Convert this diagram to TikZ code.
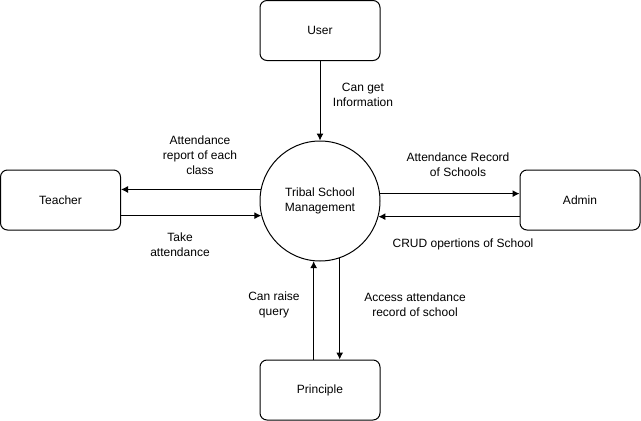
\documentclass[tikz,border=0pt]{standalone}
\usepackage{fontspec}
\setmainfont{Liberation Sans}
\usetikzlibrary{arrows.meta}
\tikzset{entity/.style={draw, rounded corners=7pt, minimum width=120pt, minimum height=60pt, line width=1pt},
	process/.style={draw, circle, minimum size=120pt, inner sep=0pt, line width=1pt},
	flow/.style={-{Latex[length=7pt, width=7pt]}, line width=1pt},
	lbl/.style={align=center, inner sep=0pt}}

\begin{document}
\begin{tikzpicture}[x=1pt, y=-1pt, font=\fontsize{12}{15}\selectfont]
	\useasboundingbox (0,0) rectangle (641,421);

	% boxes
	\node[entity] (user) at (320,30.5) {User};
	\node[entity] (teacher) at (60.5,200) {Teacher};
	\node[entity] (admin) at (580,200) {Admin};
	\node[entity] (principle) at (320,390) {Principle};
	\node[process, align=center] (tsm) at (320,201) {Tribal School\\Management};

	% arrows
	\draw[flow] (user.south) -- (tsm.north);
	\draw[flow] (tsm.169.4) -- (tsm.169.4 -| teacher.east);
	\draw[flow] (teacher.east |- tsm.194.2) -- (tsm.194.2);
	\draw[flow] (tsm.7.7) -- (tsm.7.7 -| admin.west);
	\draw[flow] (admin.west |- tsm.345.5) -- (tsm.345.5);
	\draw[flow] (principle.north -| tsm.264.3) -- (tsm.264.3);
	\draw[flow] (tsm.289.5) -- (tsm.289.5 |- principle.north);

	% labels
	\node[lbl] (l1) at (363,95) {Can get\\Information};
	\node[lbl] (l2) at (200,155) {Attendance\\report of each\\class};
	\node[lbl] (l3) at (180,245) {Take\\attendance};
	\node[lbl] (l4) at (458,165) {Attendance Record\\of Schools};
	\node[lbl] (l5) at (463,244) {CRUD opertions of School};
	\node[lbl] (l6) at (274,305) {Can raise\\query};
	\node[lbl] (l7) at (415,305) {Access attendance\\record of school};
\end{tikzpicture}
\end{document}
